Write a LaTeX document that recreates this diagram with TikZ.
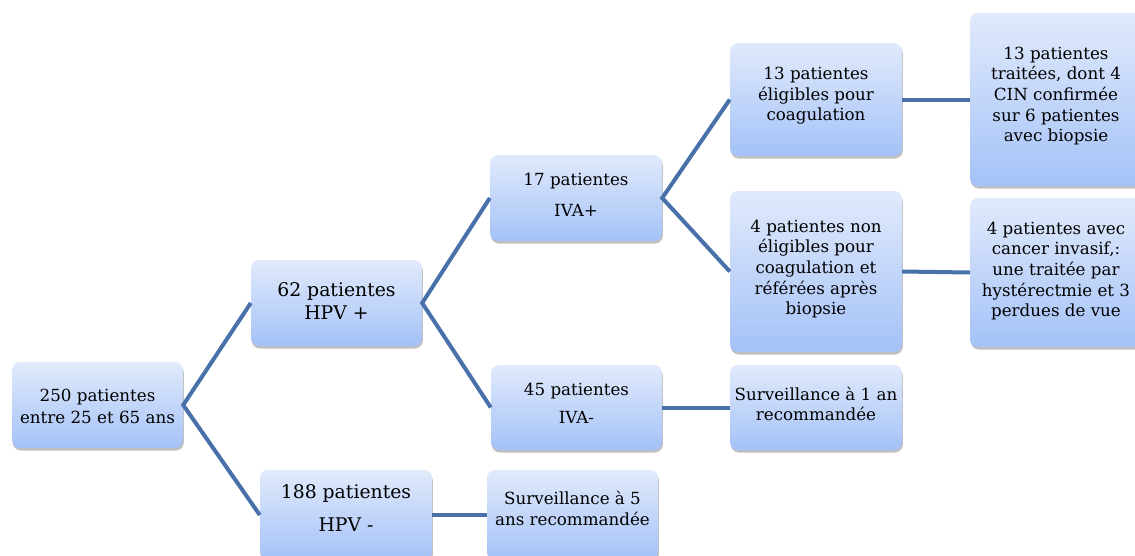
\documentclass[tikz,border=0pt]{standalone}
\usepackage{fontspec}
\setmainfont{DejaVu Serif}
\usetikzlibrary{shadows}
\definecolor{linec}{HTML}{4871A9}
\definecolor{boxtop}{HTML}{E1EAFB}
\definecolor{boxbot}{HTML}{A4C2F8}
\begin{document}
\begin{tikzpicture}[x=1pt,y=-1pt,
  box/.style={rounded corners=8pt, top color=boxtop, bottom color=boxbot, draw=none, inner sep=0pt,
    drop shadow={shadow xshift=0.8pt, shadow yshift=-2.5pt, fill=black, opacity=0.25}},
  txt/.style={align=center, inner sep=0pt, font=\fontsize{16.7}{20.6}\selectfont},
  link/.style={draw=linec, line width=4pt}]
\useasboundingbox (0,0) rectangle (1135,555);
% boxes
\node[box, minimum width=171pt, minimum height=86pt] (root) at (97.5,405) {};
\node[box, minimum width=171pt, minimum height=86pt] (hpvp) at (336.5,303) {};
\node[box, minimum width=172pt, minimum height=90pt] (hpvm) at (346,515) {};
\node[box, minimum width=172pt, minimum height=86pt] (ivap) at (576,198) {};
\node[box, minimum width=171pt, minimum height=85pt] (ivam) at (576.5,407.5) {};
\node[box, minimum width=172pt, minimum height=113pt] (elig) at (816,99.5) {};
\node[box, minimum width=172pt, minimum height=161pt] (nonel) at (816,271.5) {};
\node[box, minimum width=172pt, minimum height=173pt] (trait) at (1056,99.5) {};
\node[box, minimum width=172pt, minimum height=149pt] (cancer) at (1056,272.5) {};
\node[box, minimum width=172pt, minimum height=85pt] (surv1) at (816,407.5) {};
\node[box, minimum width=171pt, minimum height=90pt] (surv5) at (572.5,515) {};
% texts
\node[txt, font=\fontsize{16.7}{22}\selectfont] (rootT) at ([yshift=-1pt]root.center) {250 patientes\\entre 25 et 65 ans};
\node[txt, font=\fontsize{18.8}{23}\selectfont] (hpvpT) at ([yshift=2pt]hpvp.center) {62 patientes\\HPV +};
\node[txt, font=\fontsize{18.8}{33}\selectfont] (hpvmT) at ([yshift=7pt]hpvm.center) {188 patientes\\HPV -};
\node[txt, font=\fontsize{16.7}{31}\selectfont] (ivapT) at ([yshift=3.5pt]ivap.center) {17 patientes\\IVA+};
\node[txt, font=\fontsize{16.7}{28}\selectfont] (ivamT) at ([yshift=4.5pt]ivam.center) {45 patientes\\IVA-};
\node[txt] (eligT) at ([yshift=3.5pt]elig.center) {13 patientes\\éligibles pour\\coagulation};
\node[txt] (nonelT) at ([yshift=2.5pt]nonel.center) {4 patientes non\\éligibles pour\\coagulation et\\référées après\\biopsie};
\node[txt] (traitT) at ([yshift=3.5pt]trait.center) {13 patientes\\traitées, dont 4\\CIN confirmée\\sur 6 patientes\\avec biopsie};
\node[txt] (cancerT) at ([yshift=1.5pt]cancer.center) {4 patientes avec\\cancer invasif,:\\une traitée par\\hystérectmie et 3\\perdues de vue};
\node[txt] (surv1T) at ([yshift=3.5pt]surv1.center) {Surveillance à 1 an\\recommandée};
\node[txt] (surv5T) at ([yshift=6.5pt]surv5.center) {Surveillance à 5\\ans recommandée};
% connectors
\draw[link] (hpvp.west) -- (root.east) -- (hpvm.west);
\draw[link] (ivap.west) -- (hpvp.east) -- (ivam.west);
\draw[link] (elig.west) -- (ivap.east) -- (nonel.west);
\draw[link] (ivam.east) -- (surv1.west);
\draw[link] (elig.east) -- (trait.west);
\draw[link] (nonel.east) -- (cancer.west);
\draw[link] (hpvm.east) -- (surv5.west);
\end{tikzpicture}
\end{document}
